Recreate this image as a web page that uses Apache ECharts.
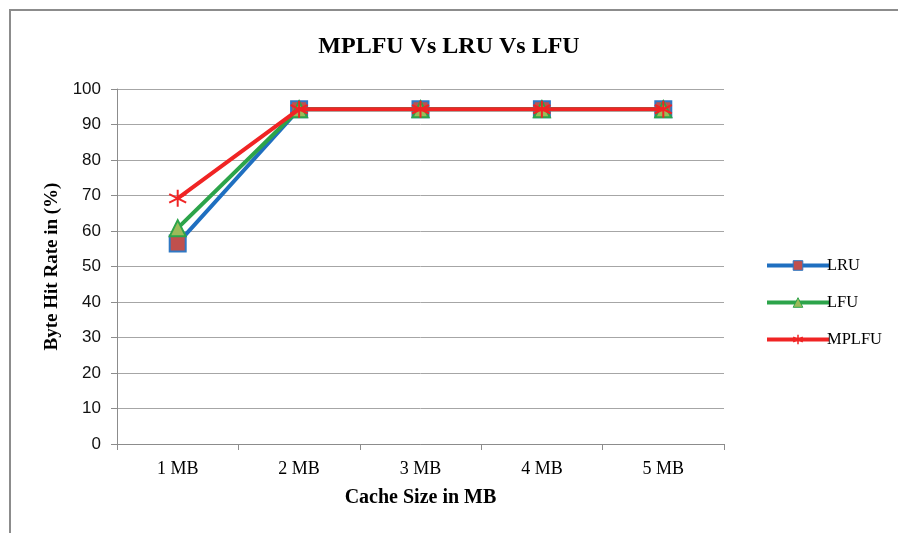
<!DOCTYPE html>
<html>
<head>
<meta charset="utf-8">
<script src="https://cdn.jsdelivr.net/npm/echarts@6/dist/echarts.min.js"></script>
<style>
html,body{margin:0;padding:0;background:#fff;}
#c{width:898px;height:533px;}
</style>
</head>
<body>
<div id="c"></div>
<script>
var categories = ['1 MB', '2 MB', '3 MB', '4 MB', '5 MB'];
var lruValues = [56.5, 94.3, 94.3, 94.3, 94.3];
var lfuValues = [60.8, 94.3, 94.3, 94.3, 94.3];
var mplfuValues = [69.2, 94.3, 94.3, 94.3, 94.3];
var yTicks = [0, 10, 20, 30, 40, 50, 60, 70, 80, 90, 100];

var serif = '"Liberation Serif", "DejaVu Serif", serif';
var asterisk = 'path://M0,-10 L0,10 M-8.66,-5 L8.66,5 M-8.66,5 L8.66,-5';

var chart = echarts.init(document.getElementById('c'), null, {renderer: 'canvas'});
chart.setOption({
  animation: false,
  backgroundColor: '#fff',
  graphic: [{
    type: 'rect',
    shape: {x: 10, y: 10, width: 1000, height: 600},
    style: {fill: 'none', stroke: '#8c8c8c', lineWidth: 2},
    silent: true
  }],
  title: {
    text: 'MPLFU Vs LRU Vs LFU',
    left: 'center',
    top: 30,
    textStyle: {fontFamily: serif, fontSize: 24, fontWeight: 'bold', color: '#000'}
  },
  legend: {
    orient: 'vertical',
    left: 760,
    top: 252,
    itemGap: 20,
    itemWidth: 62,
    itemHeight: 12,
    data: [
      {name: 'LRU', itemStyle: {borderWidth: 1}},
      {name: 'LFU', itemStyle: {borderWidth: 1}},
      {name: 'MPLFU', itemStyle: {borderWidth: 1.5}}
    ],
    lineStyle: {width: 4},
    textStyle: {fontFamily: serif, fontSize: 16.5, color: '#000', padding: [0, 0, 0, -7]}
  },
  grid: {left: 117, right: 174, top: 89, bottom: 89, containLabel: false},
  xAxis: {
    type: 'category',
    data: categories,
    boundaryGap: true,
    name: 'Cache Size in MB',
    nameLocation: 'middle',
    nameGap: 44,
    nameTextStyle: {fontFamily: serif, fontSize: 20, fontWeight: 'bold', color: '#000'},
    axisLine: {lineStyle: {color: '#8c8c8c', width: 1}},
    axisTick: {show: true, alignWithLabel: false, length: 6, lineStyle: {color: '#8c8c8c'}},
    axisLabel: {fontFamily: serif, fontSize: 18, color: '#000', margin: 16}
  },
  yAxis: {
    type: 'value',
    min: 0,
    max: 100,
    interval: 10,
    name: 'Byte Hit Rate in (%)',
    nameLocation: 'middle',
    nameGap: 53,
    nameTextStyle: {fontFamily: serif, fontSize: 19, fontWeight: 'bold', color: '#000'},
    axisLine: {show: true, lineStyle: {color: '#8c8c8c', width: 1}},
    axisTick: {show: true, length: 6, lineStyle: {color: '#8c8c8c'}},
    splitLine: {show: true, lineStyle: {color: '#a6a6a6', width: 1}},
    axisLabel: {
      fontFamily: '"Liberation Sans", Arial, sans-serif', fontSize: 17, color: '#111', margin: 16,
      formatter: function (v) { return yTicks.indexOf(v) >= 0 ? String(v) : ''; }
    }
  },
  series: [
    {
      name: 'LRU', type: 'line', data: lruValues,
      symbol: 'rect', symbolSize: 16, z: 2,
      lineStyle: {color: '#1f6fc0', width: 4},
      itemStyle: {color: '#c0504d', borderColor: '#2f78c4', borderWidth: 2}
    },
    {
      name: 'LFU', type: 'line', data: lfuValues,
      symbol: 'triangle', symbolSize: 16, z: 3,
      lineStyle: {color: '#2ca44a', width: 4},
      itemStyle: {color: '#9bbb59', borderColor: '#2ca44a', borderWidth: 2}
    },
    {
      name: 'MPLFU', type: 'line', data: mplfuValues,
      symbol: asterisk, symbolSize: 17, z: 4,
      lineStyle: {color: '#f02424', width: 4},
      itemStyle: {color: 'none', borderColor: '#f02424', borderWidth: 2}
    }
  ]
});
</script>
</body>
</html>
